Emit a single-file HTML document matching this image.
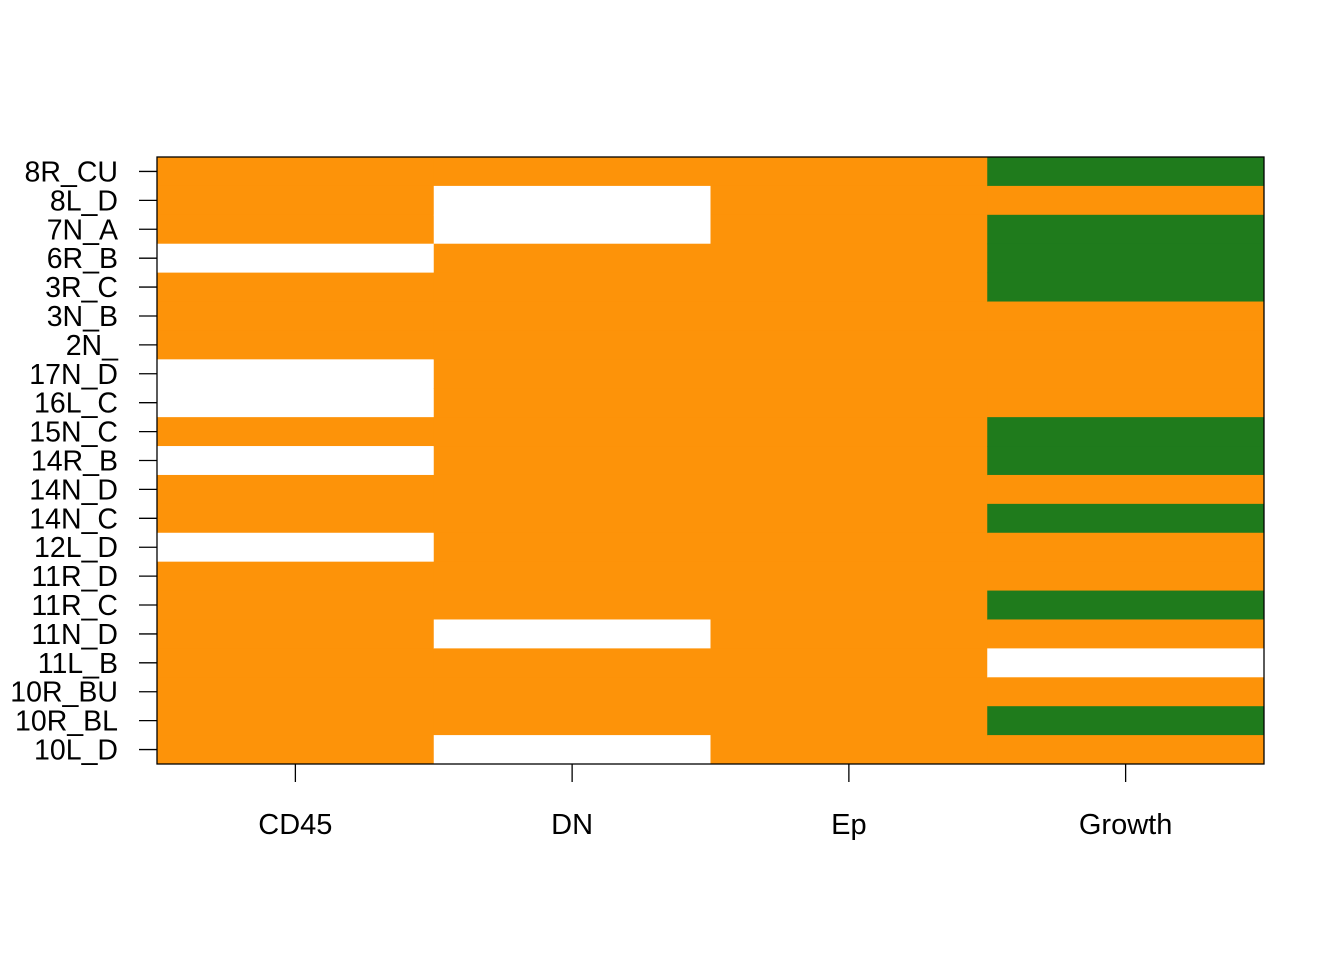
<!DOCTYPE html>
<html><head><meta charset="utf-8"><style>body{margin:0;background:#fff}svg{display:block}text{font-family:"Liberation Sans",Arial,sans-serif}</style></head>
<body>
<svg id="chart" width="1344" height="960"></svg>
<script>
const rows=["8R_CU","8L_D","7N_A","6R_B","3R_C","3N_B","2N_","17N_D","16L_C","15N_C","14R_B","14N_D","14N_C","12L_D","11R_D","11R_C","11N_D","11L_B","10R_BU","10R_BL","10L_D"];
const cols=["CD45","DN","Ep","Growth"];
// 0 = orange, 1 = white, 2 = green
const cd45=[0,0,0,1,0,0,0,1,1,0,1,0,0,1,0,0,0,0,0,0,0];
const dn=[0,1,1,0,0,0,0,0,0,0,0,0,0,0,0,0,1,0,0,0,1];
const ep=[0,0,0,0,0,0,0,0,0,0,0,0,0,0,0,0,0,0,0,0,0];
const growth=[2,0,2,2,2,0,0,0,0,2,2,0,2,0,0,2,0,1,0,2,0];
const series=[cd45,dn,ep,growth];
const palette=["#FD9309","#FFFFFF","#1F7B1C"];
const svg=document.getElementById('chart');const NS="http://www.w3.org/2000/svg";
const L=157,R=1264,T=157,B=764;
const cw=(R-L)/cols.length,rh=(B-T)/rows.length;
const xs=i=>L+i*cw, ys=j=>T+j*rh;
function mk(t,a){const e=document.createElementNS(NS,t);for(const k in a)e.setAttribute(k,a[k]);svg.appendChild(e);return e;}
series.forEach((s,i)=>s.forEach((v,j)=>{
 const r=mk('rect',{x:xs(i),y:ys(j),width:cw+0.5,height:rh+0.5,fill:palette[v]});
 
 
}));
const f=mk('rect',{x:L,y:T,width:R-L,height:B-T,fill:'none',stroke:'#000','stroke-width':1.3});


rows.forEach((r,j)=>{
 const y=ys(j)+rh/2;
 const t=mk('line',{x1:139,x2:L,y1:y,y2:y,stroke:'#000','stroke-width':1.3});
 
 
 const tx=mk('text',{x:118,y:y+10,'text-anchor':'end','font-size':28.5});
 tx.textContent=r;
 
 
});
cols.forEach((c,i)=>{
 const x=xs(i)+cw/2;
 const t=mk('line',{x1:x,x2:x,y1:B,y2:782,stroke:'#000','stroke-width':1.3});
 
 
 const tx=mk('text',{x:x,y:834,'text-anchor':'middle','font-size':29});
 tx.textContent=c;
 
 
});
</script>
</body></html>
